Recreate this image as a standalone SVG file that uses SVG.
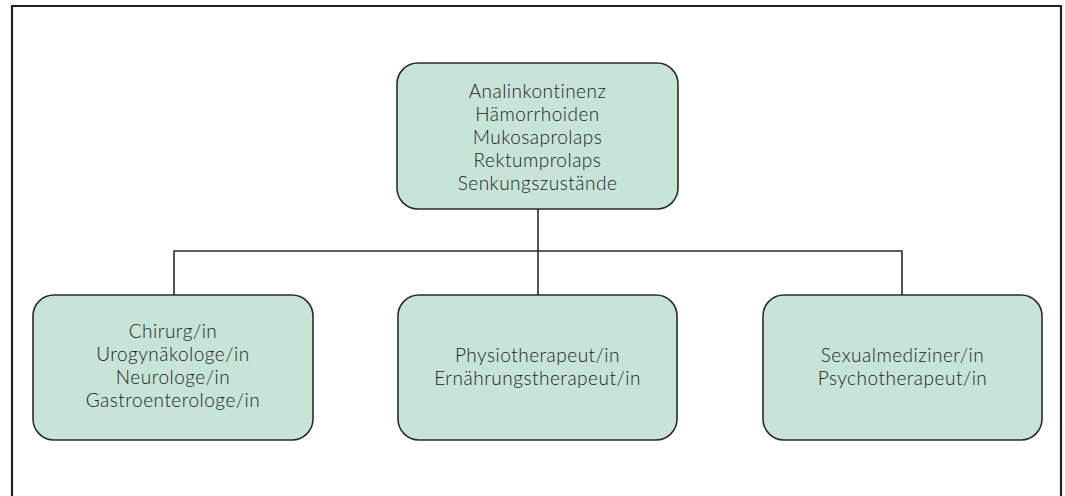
<svg xmlns="http://www.w3.org/2000/svg" width="1065" height="496" viewBox="0 0 1065 496">
<style>
.node{fill:#c7e4d9;stroke:#2b2b2b;stroke-width:1.6}
.lbl{font-family:Lato,"Noto Sans","Liberation Sans",sans-serif;font-size:19px;font-weight:300;letter-spacing:0.5px;fill:#222;text-anchor:middle}
.conn{fill:none;stroke:#2b2b2b;stroke-width:1.6}
.frame{fill:none;stroke:#222;stroke-width:2.2}
</style>
<rect width="1065" height="496" fill="#fff"/>
<path class="frame" d="M12,500 V6 H1061 V500"/>
<g id="connectors">
<path class="conn" d="M538,209 V295"/>
<path class="conn" d="M174,295 V251 H902 V295"/>
</g>
<g id="node-top">
<rect class="node" x="397" y="63" width="281" height="146" rx="21"/>
<text class="lbl" x="537.5" y="98">Analinkontinenz</text>
<text class="lbl" x="537.5" y="121">Hämorrhoiden</text>
<text class="lbl" x="537.5" y="144">Mukosaprolaps</text>
<text class="lbl" x="537.5" y="167">Rektumprolaps</text>
<text class="lbl" x="537.5" y="190">Senkungszustände</text>
</g>
<g id="node-left">
<rect class="node" x="33" y="295" width="280" height="145" rx="21"/>
<text class="lbl" x="173" y="338">Chirurg/in</text>
<text class="lbl" x="173" y="361">Urogynäkologe/in</text>
<text class="lbl" x="173" y="384">Neurologe/in</text>
<text class="lbl" x="173" y="407">Gastroenterologe/in</text>
</g>
<g id="node-middle">
<rect class="node" x="398" y="295" width="279" height="145" rx="21"/>
<text class="lbl" x="537.5" y="362">Physiotherapeut/in</text>
<text class="lbl" x="537.5" y="385">Ernährungstherapeut/in</text>
</g>
<g id="node-right">
<rect class="node" x="763" y="295" width="279" height="145" rx="21"/>
<text class="lbl" x="902.5" y="362">Sexualmediziner/in</text>
<text class="lbl" x="902.5" y="385">Psychotherapeut/in</text>
</g>
</svg>
